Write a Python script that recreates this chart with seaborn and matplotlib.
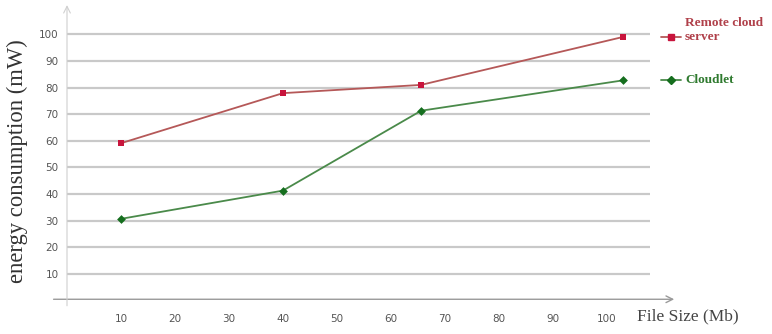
import pandas as pd
import numpy as np
import matplotlib
matplotlib.use('Agg')
import matplotlib.pyplot as plt
import seaborn as sns; sns.set_theme(style='white')
from matplotlib.lines import Line2D

# ===== Data =====
file_size = [10, 40, 65.6, 103]
remote_cloud = [59.1, 77.9, 81.0, 99.0]
cloudlet = [30.7, 41.3, 71.3, 82.7]
series_names = ['Remote cloud server', 'Cloudlet']
x_ticks = [10, 20, 30, 40, 50, 60, 70, 80, 90, 100]
y_ticks = [10, 20, 30, 40, 50, 60, 70, 80, 90, 100]

df = pd.DataFrame({
    'size': file_size * 2,
    'energy': remote_cloud + cloudlet,
    'series': [series_names[0]] * len(file_size) + [series_names[1]] * len(file_size),
})

line_colors = {series_names[0]: '#b55858', series_names[1]: '#4a8a4a'}
marker_colors = {series_names[0]: '#c8143c', series_names[1]: '#156e1e'}
markers = {series_names[0]: 's', series_names[1]: 'D'}

fig = plt.figure(figsize=(7.72, 3.34), dpi=100)
ax = fig.add_axes([67 / 772, 1 - 300.6 / 334, (650 - 67) / 772, 295.6 / 334])

# gridlines
for yv in y_ticks:
    ax.axhline(yv, color='#c9c9c9', lw=1.6, zorder=0)

sns.lineplot(data=df, x='size', y='energy', hue='series', palette=line_colors,
             lw=1.3, legend=False, ax=ax, zorder=2)
for name in series_names:
    sub = df[df['series'] == name]
    ax.scatter(sub['size'], sub['energy'], marker=markers[name], s=20,
               color=marker_colors[name], zorder=3, linewidths=0)

ax.set_xlim(0, 108)
ax.set_ylim(0, 111)
ax.set_xticks(x_ticks)
ax.set_yticks(y_ticks)
ax.tick_params(axis='both', length=0, labelsize=7.5, colors='#555555', pad=6)
ax.tick_params(axis='x', pad=10)
for s in ax.spines.values():
    s.set_visible(False)
ax.set_xlabel('')
ax.set_ylabel('')

# axis lines with arrows
ax.annotate('', xy=(113, 0.5), xytext=(-3, 0.5), xycoords='data',
            arrowprops=dict(arrowstyle='->', color='#9a9a9a', lw=1.0),
            annotation_clip=False)
ax.annotate('', xy=(0, 112), xytext=(0, -3), xycoords='data',
            arrowprops=dict(arrowstyle='->', color='#d0d0d0', lw=0.8),
            annotation_clip=False)

serif = ['Liberation Serif', 'DejaVu Serif']
fig.text(17 / 772, 1 - 161 / 334, 'energy consumption (mW)', rotation=90,
         ha='center', va='center', fontsize=16.3, family=serif, color='#333333')
fig.text(637 / 772, 1 - 316 / 334, 'File Size (Mb)', ha='left', va='center',
         fontsize=12.5, family=serif, color='#444444')

# legend drawn by hand to match the two-line label layout
for name, ly in [(series_names[0], 37), (series_names[1], 80)]:
    yy = 1 - ly / 334
    fig.add_artist(Line2D([661 / 772, 681 / 772], [yy, yy], color=line_colors[name],
                          lw=1.3, transform=fig.transFigure))
    fig.add_artist(Line2D([671 / 772], [yy], marker=markers[name], markersize=4.5,
                          color=marker_colors[name], lw=0, transform=fig.transFigure))
fig.text(685 / 772, 1 - 23 / 334, 'Remote cloud', ha='left', va='center', fontsize=9.5,
         family=serif, weight='bold', color='#b0404a')
fig.text(685 / 772, 1 - 37 / 334, 'server', ha='left', va='center', fontsize=9.5,
         family=serif, weight='bold', color='#b0404a')
fig.text(685 / 772, 1 - 80 / 334, 'Cloudlet', ha='left', va='center', fontsize=9.5,
         family=serif, weight='bold', color='#2f7a2f')

fig.savefig('out.png', dpi=100)
